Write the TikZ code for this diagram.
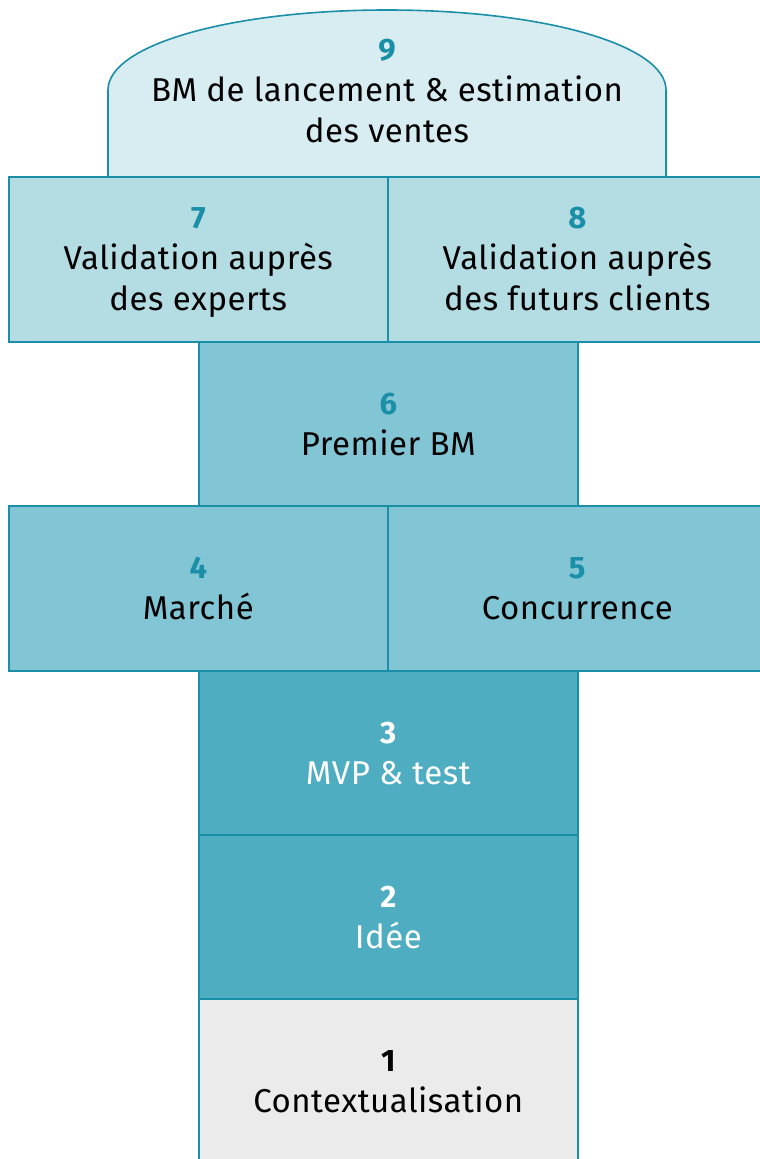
\documentclass[tikz,border=0pt]{standalone}
\usepackage{fontspec}
\setmainfont[LetterSpace=1.5]{Fira Sans}
\definecolor{edge}{HTML}{1A8FA7}
\definecolor{numteal}{HTML}{1A8FA7}
\definecolor{fillnine}{HTML}{D8EDF2}
\definecolor{fillval}{HTML}{B4DCE3}
\definecolor{fillmid}{HTML}{82C5D4}
\definecolor{fillcore}{HTML}{4FADC2}
\definecolor{fillbase}{HTML}{EBEBEB}
\tikzset{
  stagetext/.style={align=center, text=black, font=\fontsize{33}{41}\selectfont},
  stage/.style={draw=edge, line width=1.6pt, rectangle,
    anchor=north west, inner sep=0pt},
  wide/.style={minimum width=379pt, minimum height=165pt}
}
\newcommand{\stagenum}[2]{\strut{\fontsize{31}{41}\selectfont\bfseries\color{#1}#2}}
\begin{document}
\begin{tikzpicture}[x=1pt,y=1pt]
\useasboundingbox (0,0) rectangle (760,-1159);
\clip (0,0) rectangle (760,-1159);
% dome for stage 9
\draw[draw=edge, line width=1.6pt, fill=fillnine]
  (108,-176) -- (108,-90)
  .. controls (108,-45) and (230,-10) .. (387,-10)
  .. controls (544,-10) and (666,-45) .. (666,-90)
  -- (666,-176);
\node[stagetext] (s9) at (387,-93)
  {\stagenum{numteal}{9}\\BM de lancement \& estimation\\des ventes\strut};
% stage boxes
\node[stage, wide, fill=fillval] (s7) at (8,-176) {};
\node[stage, wide, fill=fillval] (s8) at (387,-176) {};
\node[stage, wide, fill=fillmid] (s6) at (198,-341) {};
\node[stage, wide, fill=fillmid] (s4) at (8,-505) {};
\node[stage, wide, fill=fillmid] (s5) at (387,-505) {};
\node[stage, wide, fill=fillcore] (s3) at (198,-670) {};
\node[stage, wide, fill=fillcore] (s2) at (198,-834) {};
\node[stage, wide, fill=fillbase] (s1) at (198,-998) {};
% stage labels
\node[stagetext] (t7) at ([yshift=-2pt]s7.center)
  {\stagenum{numteal}{7}\\Validation auprès\\des experts\strut};
\node[stagetext] (t8) at ([yshift=-2pt]s8.center)
  {\stagenum{numteal}{8}\\Validation auprès\\des futurs clients\strut};
\node[stagetext] (t6) at ([yshift=-2pt]s6.center)
  {\stagenum{numteal}{6}\\Premier BM\strut};
\node[stagetext] (t4) at ([yshift=-2pt]s4.center)
  {\stagenum{numteal}{4}\\Marché\strut};
\node[stagetext] (t5) at ([yshift=-2pt]s5.center)
  {\stagenum{numteal}{5}\\Concurrence\strut};
\node[stagetext, text=white] (t3) at ([yshift=-2pt]s3.center)
  {\stagenum{white}{3}\\MVP \& test\strut};
\node[stagetext, text=white] (t2) at ([yshift=-2pt]s2.center)
  {\stagenum{white}{2}\\Idée\strut};
\node[stagetext] (t1) at ([yshift=-2pt]s1.center)
  {\stagenum{black}{1}\\Contextualisation\strut};
\end{tikzpicture}
\end{document}
